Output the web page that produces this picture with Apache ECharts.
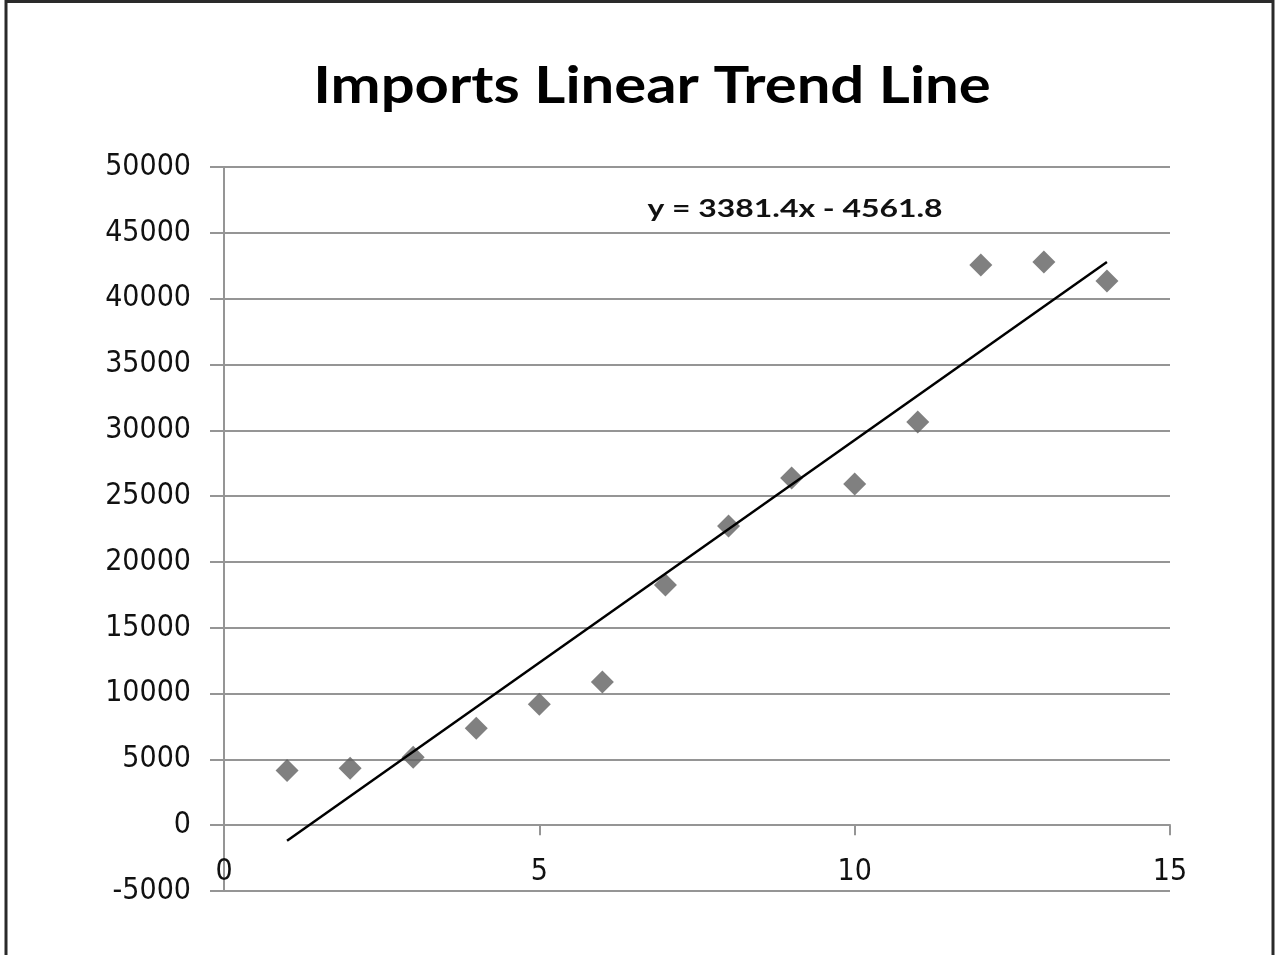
<!DOCTYPE html>
<html>
<head>
<meta charset="utf-8">
<title>Imports Linear Trend Line</title>
<script src="https://cdn.jsdelivr.net/npm/echarts@6/dist/echarts.min.js"></script>
<style>
  html, body { margin: 0; padding: 0; background: #ffffff; }
  #chart { width: 1275px; height: 955px; }
</style>
</head>
<body>
<div id="chart"></div>
<script>
// Observation index (period) and imports value
const periods = [1, 2, 3, 4, 5, 6, 7, 8, 9, 10, 11, 12, 13, 14];
const imports = [4150, 4330, 5170, 7370, 9190, 10870, 18240, 22720, 26370, 25910, 30620, 42550, 42780, 41340];

// Least-squares fit shown on the chart
const trendSlope = 3381.4;
const trendIntercept = -4561.8;
const trendRange = [1, 14];

const xTicks = [0, 5, 10, 15];
const yTicks = [-5000, 0, 5000, 10000, 15000, 20000, 25000, 30000, 35000, 40000, 45000, 50000];

const chartTitle = 'Imports Linear Trend Line';

const points = periods.map((p, i) => [p, imports[i]]);
const trendPoints = trendRange.map(x => [x, trendSlope * x + trendIntercept]);
const equationText = 'y = ' + trendSlope.toFixed(1) + 'x - ' + Math.abs(trendIntercept).toFixed(1);

const W = 1275, H = 955;
const gridBox = { left: 224, right: 105, top: 167, bottom: 64 };
const plotHeight = H - gridBox.top - gridBox.bottom;
const yMin = yTicks[0], yMax = yTicks[yTicks.length - 1];
// the horizontal axis crosses the value axis at y = 0
const xAxisShift = -plotHeight * (0 - yMin) / (yMax - yMin);

const labelFont = '"DejaVu Sans Condensed", "Liberation Sans", sans-serif';
const gridGray = '#959595';

const chart = echarts.init(document.getElementById('chart'), null, { renderer: 'canvas' });

chart.setOption({
  backgroundColor: '#ffffff',
  animation: false,
  grid: gridBox,
  xAxis: {
    type: 'value',
    min: xTicks[0],
    max: xTicks[xTicks.length - 1],
    interval: 5,
    offset: xAxisShift,
    axisLine: { show: true, onZero: false, lineStyle: { color: gridGray, width: 2 } },
    axisTick: { show: true, length: 10, lineStyle: { color: gridGray, width: 2 } },
    axisLabel: {
      margin: 32,
      fontFamily: labelFont,
      fontSize: 30,
      color: '#111111'
    },
    splitLine: { show: false }
  },
  yAxis: {
    type: 'value',
    min: yMin,
    max: yMax,
    interval: 5000,
    axisLine: { show: true, onZero: false, lineStyle: { color: gridGray, width: 2 } },
    axisTick: { show: true, length: 14, lineStyle: { color: gridGray, width: 2 } },
    axisLabel: {
      margin: 33,
      fontFamily: labelFont,
      fontSize: 30,
      color: '#111111',
      formatter: v => String(v)
    },
    splitLine: { show: true, lineStyle: { color: gridGray, width: 2 } }
  },
  series: [
    {
      name: 'Imports',
      type: 'scatter',
      data: points,
      symbol: 'diamond',
      symbolSize: 23,
      itemStyle: { color: '#606060' },
      z: 2
    },
    {
      name: 'Linear trend',
      type: 'line',
      data: trendPoints,
      symbol: 'none',
      lineStyle: { color: '#000000', width: 2.5 },
      z: 3
    }
  ],
  graphic: [
    // chart title
    {
      type: 'text',
      x: 652,
      y: 86,
      scaleX: 1.15,
      style: {
        text: chartTitle,
        fill: '#000000',
        font: 'bold 52px Lato, "Noto Sans", sans-serif',
        textAlign: 'center',
        textVerticalAlign: 'middle'
      }
    },
    // trend line equation
    {
      type: 'text',
      x: 795,
      y: 209,
      scaleX: 1.33,
      style: {
        text: equationText,
        fill: '#111111',
        font: 'bold 24px Lato, "Noto Sans", sans-serif',
        textAlign: 'center',
        textVerticalAlign: 'middle'
      }
    },
    // chart frame (left, top, right edges)
    {
      type: 'polyline',
      shape: { points: [[6, H], [6, 1.5], [1273, 1.5], [1273, H]] },
      style: { stroke: '#2a2a2a', lineWidth: 3, fill: null }
    }
  ]
});
</script>
</body>
</html>
